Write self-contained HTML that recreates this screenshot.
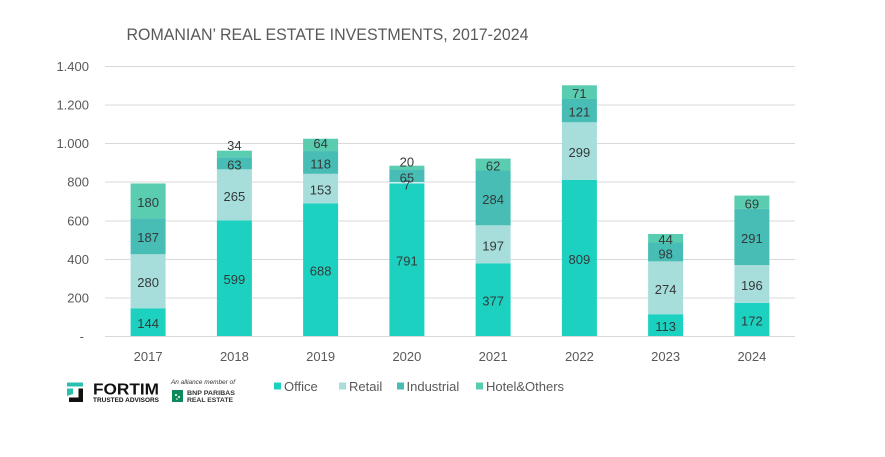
<!DOCTYPE html>
<html>
<head>
<meta charset="utf-8">
<style>
  html, body { margin: 0; padding: 0; background: #ffffff; }
  body { width: 885px; height: 457px; overflow: hidden; }
  svg { display: block; }
  text { font-family: "Liberation Sans", "DejaVu Sans", sans-serif; }
</style>
</head>
<body>
<svg width="885" height="457" viewBox="0 0 885 457" xmlns="http://www.w3.org/2000/svg">
  <rect x="0" y="0" width="885" height="457" fill="#ffffff"/>

  <!-- Title -->
  <text x="126.5" y="40" font-size="17" fill="#595959" textLength="402" lengthAdjust="spacingAndGlyphs">ROMANIAN’ REAL ESTATE INVESTMENTS, 2017-2024</text>

  <!-- Gridlines -->
  <g stroke="#d9d9d9" stroke-width="1">
    <line x1="105" y1="66.5" x2="795" y2="66.5"/>
    <line x1="105" y1="105" x2="795" y2="105"/>
    <line x1="105" y1="143.5" x2="795" y2="143.5"/>
    <line x1="105" y1="182" x2="795" y2="182"/>
    <line x1="105" y1="221" x2="795" y2="221"/>
    <line x1="105" y1="259.5" x2="795" y2="259.5"/>
    <line x1="105" y1="298" x2="795" y2="298"/>
    <line x1="105" y1="336.5" x2="795" y2="336.5"/>
  </g>

  <!-- Y axis labels -->
  <g font-size="13" fill="#595959" text-anchor="end">
    <text x="89" y="71">1.400</text>
    <text x="89" y="109.5">1.200</text>
    <text x="89" y="148">1.000</text>
    <text x="89" y="186.5">800</text>
    <text x="89" y="225.5">600</text>
    <text x="89" y="264">400</text>
    <text x="89" y="302.5">200</text>
    <text x="84" y="341">-</text>
  </g>

  <!-- Bars -->
  <!-- 2017 -->
  <rect x="130.6" y="308.23" width="35" height="27.77" fill="#1dd1c1"/>
  <rect x="130.6" y="254.23" width="35" height="54.0" fill="#a7dedb"/>
  <rect x="130.6" y="218.16" width="35" height="36.07" fill="#47bdb5"/>
  <rect x="130.6" y="183.45" width="35" height="34.71" fill="#5acdb0"/>
  <!-- 2018 -->
  <rect x="216.9" y="220.48" width="35" height="115.52" fill="#1dd1c1"/>
  <rect x="216.9" y="169.37" width="35" height="51.11" fill="#a7dedb"/>
  <rect x="216.9" y="157.22" width="35" height="12.15" fill="#47bdb5"/>
  <rect x="216.9" y="150.66" width="35" height="6.56" fill="#5acdb0"/>
  <!-- 2019 -->
  <rect x="303.1" y="203.31" width="35" height="132.69" fill="#1dd1c1"/>
  <rect x="303.1" y="173.81" width="35" height="29.5" fill="#a7dedb"/>
  <rect x="303.1" y="151.05" width="35" height="22.76" fill="#47bdb5"/>
  <rect x="303.1" y="138.71" width="35" height="12.34" fill="#5acdb0"/>
  <!-- 2020 -->
  <rect x="389.4" y="183.45" width="35" height="152.55" fill="#1dd1c1"/>
  <rect x="389.4" y="182.1" width="35" height="1.35" fill="#dff3f2"/>
  <rect x="389.4" y="169.56" width="35" height="12.54" fill="#47bdb5"/>
  <rect x="389.4" y="165.71" width="35" height="3.85" fill="#5acdb0"/>
  <!-- 2021 -->
  <rect x="475.6" y="263.29" width="35" height="72.71" fill="#1dd1c1"/>
  <rect x="475.6" y="225.3" width="35" height="37.99" fill="#a7dedb"/>
  <rect x="475.6" y="170.53" width="35" height="54.77" fill="#47bdb5"/>
  <rect x="475.6" y="158.57" width="35" height="11.96" fill="#5acdb0"/>
  <!-- 2022 -->
  <rect x="561.9" y="179.98" width="35" height="156.02" fill="#1dd1c1"/>
  <rect x="561.9" y="122.31" width="35" height="57.67" fill="#a7dedb"/>
  <rect x="561.9" y="98.98" width="35" height="23.33" fill="#47bdb5"/>
  <rect x="561.9" y="85.29" width="35" height="13.69" fill="#5acdb0"/>
  <!-- 2023 -->
  <rect x="648.1" y="314.21" width="35" height="21.79" fill="#1dd1c1"/>
  <rect x="648.1" y="261.36" width="35" height="52.85" fill="#a7dedb"/>
  <rect x="648.1" y="242.46" width="35" height="18.9" fill="#47bdb5"/>
  <rect x="648.1" y="233.98" width="35" height="8.48" fill="#5acdb0"/>
  <!-- 2024 -->
  <rect x="734.4" y="302.83" width="35" height="33.17" fill="#1dd1c1"/>
  <rect x="734.4" y="265.03" width="35" height="37.8" fill="#a7dedb"/>
  <rect x="734.4" y="208.91" width="35" height="56.12" fill="#47bdb5"/>
  <rect x="734.4" y="195.6" width="35" height="13.31" fill="#5acdb0"/>

  <!-- Data labels -->
  <g font-size="13" fill="#333a3a" text-anchor="middle">
    <!-- 2017 -->
    <text x="148.1" y="328.2">144</text>
    <text x="148.1" y="287.2">280</text>
    <text x="148.1" y="242.2">187</text>
    <text x="148.1" y="206.8">180</text>
    <!-- 2018 -->
    <text x="234.4" y="284.2">599</text>
    <text x="234.4" y="200.9">265</text>
    <text x="234.4" y="169.3">63</text>
    <text x="234.4" y="150">34</text>
    <!-- 2019 -->
    <text x="320.6" y="275.7">688</text>
    <text x="320.6" y="194.6">153</text>
    <text x="320.6" y="168.4">118</text>
    <text x="320.6" y="148">64</text>
    <!-- 2020 -->
    <text x="406.9" y="265.7">791</text>
    <text x="406.9" y="189.5">7</text>
    <text x="406.9" y="182.5">65</text>
    <text x="406.9" y="166.5">20</text>
    <!-- 2021 -->
    <text x="493.1" y="305.6">377</text>
    <text x="493.1" y="250.3">197</text>
    <text x="493.1" y="203.9">284</text>
    <text x="493.1" y="170.4">62</text>
    <!-- 2022 -->
    <text x="579.4" y="264">809</text>
    <text x="579.4" y="157.1">299</text>
    <text x="579.4" y="116.6">121</text>
    <text x="579.4" y="98.2">71</text>
    <!-- 2023 -->
    <text x="665.6" y="331.1">113</text>
    <text x="665.6" y="293.8">274</text>
    <text x="665.6" y="258.5">98</text>
    <text x="665.6" y="244.2">44</text>
    <!-- 2024 -->
    <text x="751.9" y="325.4">172</text>
    <text x="751.9" y="289.9">196</text>
    <text x="751.9" y="243">291</text>
    <text x="751.9" y="208.3">69</text>
  </g>

  <!-- X axis labels -->
  <g font-size="13" fill="#595959" text-anchor="middle">
    <text x="148.1" y="361">2017</text>
    <text x="234.4" y="361">2018</text>
    <text x="320.6" y="361">2019</text>
    <text x="406.9" y="361">2020</text>
    <text x="493.1" y="361">2021</text>
    <text x="579.4" y="361">2022</text>
    <text x="665.6" y="361">2023</text>
    <text x="751.9" y="361">2024</text>
  </g>

  <!-- Legend -->
  <g font-size="13" fill="#595959">
    <rect x="274" y="382.5" width="7" height="7" fill="#1dd1c1"/>
    <text x="284" y="391">Office</text>
    <rect x="339" y="382.5" width="7" height="7" fill="#a7dedb"/>
    <text x="349" y="391">Retail</text>
    <rect x="397" y="382.5" width="7" height="7" fill="#47bdb5"/>
    <text x="406.5" y="391">Industrial</text>
    <rect x="476" y="382.5" width="7" height="7" fill="#5acdb0"/>
    <text x="486" y="391">Hotel&amp;Others</text>
  </g>

  <!-- FORTIM logo -->
  <g>
    <rect x="67" y="382.5" width="16" height="4" fill="#2bbfae"/>
    <polygon points="67,388.5 73,388.5 73,394 67,396" fill="#2bbfae"/>
    <rect x="78.5" y="388.5" width="4.5" height="13.5" fill="#111111"/>
    <rect x="69" y="397.5" width="14" height="4.5" fill="#111111"/>
    <text x="93" y="394.5" font-size="15.5" font-weight="bold" fill="#111111" textLength="66" lengthAdjust="spacingAndGlyphs">FORTIM</text>
    <text x="93" y="402" font-size="6.5" font-weight="bold" fill="#111111" textLength="66" lengthAdjust="spacingAndGlyphs">TRUSTED ADVISORS</text>
  </g>

  <!-- BNP logo -->
  <g>
    <text x="171" y="384" font-size="6" font-style="italic" fill="#333333" textLength="64" lengthAdjust="spacingAndGlyphs">An alliance member of</text>
    <rect x="172" y="390" width="11" height="12" fill="#0e8a5a"/>
    <circle cx="176" cy="395" r="1" fill="#ffffff"/>
    <circle cx="179" cy="397" r="1" fill="#ffffff"/>
    <circle cx="177" cy="399" r="0.8" fill="#ffffff"/>
    <text x="187" y="395" font-size="6.5" font-weight="bold" fill="#333333" textLength="48" lengthAdjust="spacingAndGlyphs">BNP PARIBAS</text>
    <text x="187" y="402" font-size="6.5" font-weight="bold" fill="#333333" textLength="46" lengthAdjust="spacingAndGlyphs">REAL ESTATE</text>
  </g>
</svg>
</body>
</html>
